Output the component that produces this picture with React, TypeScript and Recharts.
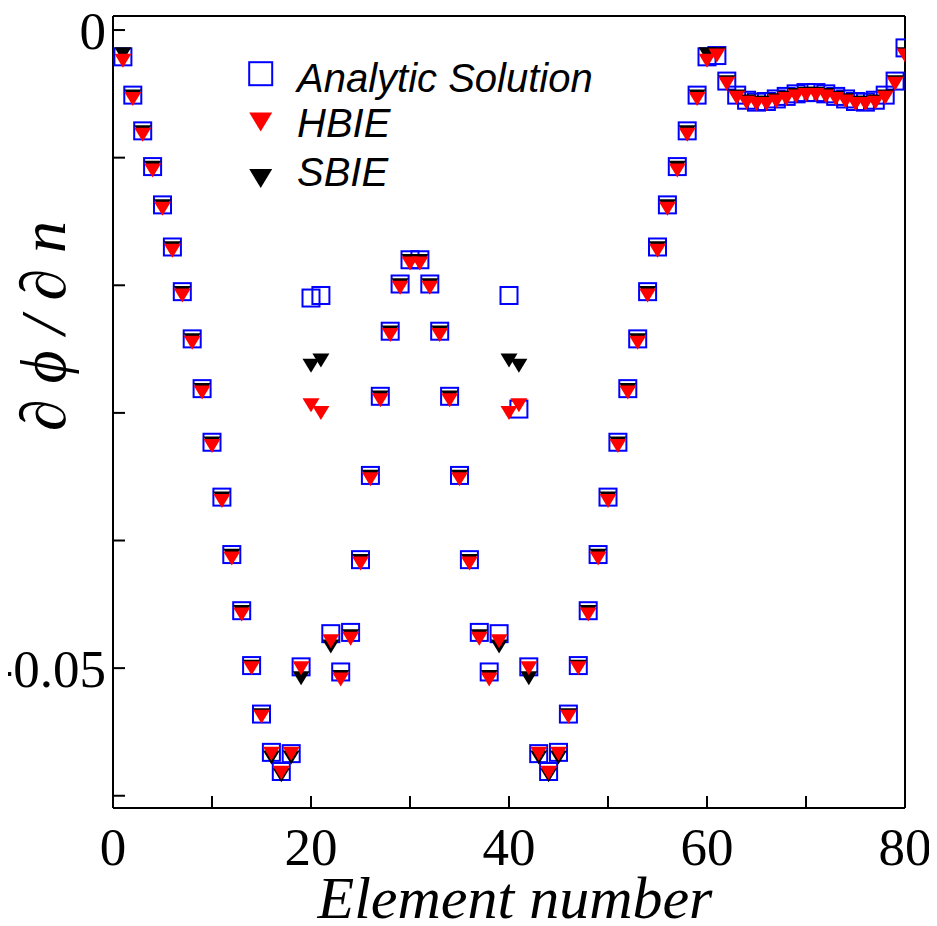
import React from 'react';
import { ScatterChart, Scatter, XAxis, YAxis } from 'recharts';

const ELEMENTS = [
  1, 2, 3, 4, 5, 6, 7, 8, 9, 10, 11, 12, 13, 14, 15, 16, 17, 18, 19, 20,
  21, 22, 23, 24, 25, 26, 27, 28, 29, 30, 31, 32, 33, 34, 35, 36, 37, 38, 39, 40,
  41, 42, 43, 44, 45, 46, 47, 48, 49, 50, 51, 52, 53, 54, 55, 56, 57, 58, 59, 60,
  61, 62, 63, 64, 65, 66, 67, 68, 69, 70, 71, 72, 73, 74, 75, 76, 77, 78, 79, 80,
];

const ANALYTIC = [
  -0.0021, -0.0051, -0.0079, -0.0107, -0.0137, -0.0170, -0.0205, -0.0242, -0.0281, -0.0323,
  -0.0366, -0.0411, -0.0455, -0.0498, -0.0536, -0.0566, -0.0581, -0.0567, -0.0499, -0.0210,
  -0.0208, -0.0473, -0.0503, -0.0472, -0.0415, -0.0349, -0.0287, -0.0236, -0.0199, -0.0180,
  -0.0180, -0.0199, -0.0236, -0.0287, -0.0349, -0.0415, -0.0472, -0.0503, -0.0473, -0.0208,
  -0.0297, -0.0499, -0.0567, -0.0581, -0.0566, -0.0536, -0.0498, -0.0455, -0.0411, -0.0366,
  -0.0323, -0.0281, -0.0242, -0.0205, -0.0170, -0.0137, -0.0107, -0.0079, -0.0051, -0.0021,
  -0.0020, -0.0040, -0.0051, -0.0055, -0.00565, -0.0056, -0.0054, -0.0052, -0.0050, -0.0049,
  -0.0049, -0.0050, -0.0052, -0.0054, -0.0056, -0.00565, -0.0055, -0.0051, -0.0040, -0.0014,
];

const HBIE = [
  -0.0024, -0.0054, -0.0082, -0.0110, -0.0140, -0.0173, -0.0208, -0.0245, -0.0284, -0.0326,
  -0.0369, -0.0414, -0.0458, -0.0500, -0.0538, -0.0567, -0.0582, -0.0567, -0.0500, -0.0294,
  -0.0300, -0.0479, -0.0509, -0.0477, -0.0418, -0.0352, -0.0290, -0.0239, -0.0202, -0.0183,
  -0.0183, -0.0202, -0.0239, -0.0290, -0.0352, -0.0418, -0.0477, -0.0509, -0.0479, -0.0300,
  -0.0294, -0.0500, -0.0567, -0.0582, -0.0567, -0.0538, -0.0500, -0.0458, -0.0414, -0.0369,
  -0.0326, -0.0284, -0.0245, -0.0208, -0.0173, -0.0140, -0.0110, -0.0082, -0.0054, -0.0024,
  -0.0020, -0.0042, -0.0053, -0.0057, -0.0058, -0.0058, -0.0056, -0.0054, -0.0052, -0.0051,
  -0.0051, -0.0052, -0.0054, -0.0056, -0.0058, -0.0058, -0.0057, -0.0053, -0.0042, -0.0020,
];

const SBIE = [
  -0.0019, -0.0052, -0.0080, -0.0108, -0.0138, -0.0171, -0.0206, -0.0243, -0.0282, -0.0324,
  -0.0367, -0.0412, -0.0456, -0.0499, -0.0537, -0.0570, -0.0584, -0.0570, -0.0508, -0.0263,
  -0.0259, -0.0483, -0.0507, -0.0475, -0.0416, -0.0350, -0.0288, -0.0237, -0.0200, -0.0181,
  -0.0181, -0.0200, -0.0237, -0.0288, -0.0350, -0.0416, -0.0475, -0.0507, -0.0483, -0.0259,
  -0.0263, -0.0508, -0.0570, -0.0584, -0.0570, -0.0537, -0.0499, -0.0456, -0.0412, -0.0367,
  -0.0324, -0.0282, -0.0243, -0.0206, -0.0171, -0.0138, -0.0108, -0.0080, -0.0052, -0.0019,
  -0.0019, -0.0041, -0.0052, -0.0056, -0.0057, -0.0057, -0.0055, -0.0053, -0.0051, -0.0050,
  -0.0050, -0.0051, -0.0053, -0.0055, -0.0057, -0.0057, -0.0056, -0.0052, -0.0041, -0.0019,
];

const SERIES_NAMES = ['Analytic Solution', 'HBIE', 'SBIE'];
const X_TICKS = [0, 10, 20, 30, 40, 50, 60, 70, 80];
const X_TICK_LABELS = [0, 20, 40, 60, 80];
const Y_TICKS = [0, -0.01, -0.02, -0.03, -0.04, -0.05, -0.06];
const Y_TICK_LABELS = ['0', '-0.05'];
const X_DOMAIN: [number, number] = [0, 80];
const Y_DOMAIN: [number, number] = [-0.06096, 0.0011];

const X_TITLE = 'Element number';
const Y_TITLE = '\u2202 \u03d5 / \u2202 n';

const toPoints = (ys: number[]) => ELEMENTS.map((x, i) => ({ x, y: ys[i] }));

const BLUE = '#0000ff';
const RED = '#ff0000';
const BLACK = '#000000';
const SERIF = '"Liberation Serif", "Times New Roman", "DejaVu Serif", serif';
const SANS = '"Liberation Sans", Arial, sans-serif';

const SquareShape = (props: any) => {
  const { cx, cy } = props;
  if (cx == null || cy == null) return null;
  const s = 8.5;
  return <rect x={cx - s} y={cy - s} width={2 * s} height={2 * s} fill="none" stroke={BLUE} strokeWidth={2} />;
};

const makeTriangle = (color: string) => (props: any) => {
  const { cx, cy } = props;
  if (cx == null || cy == null) return null;
  const w = 8.5;
  const h = 7;
  return <polygon points={`${cx - w},${cy - h} ${cx + w},${cy - h} ${cx},${cy + h}`} fill={color} />;
};

const axisStroke = { stroke: BLACK, strokeWidth: 2 };

const yTickFormatter = (v: number) => {
  const s = v === 0 ? '0' : v.toFixed(2);
  return Y_TICK_LABELS.includes(s) ? s : '';
};

const XTitle = (p: any) => {
  const vb = p.viewBox;
  return (
    <text x={vb.x + vb.width / 2 + 6} y={vb.y + vb.height - 8} textAnchor="middle" fontFamily={SERIF} fontStyle="italic" fontSize={60} fill={BLACK}>
      {X_TITLE}
    </text>
  );
};

const YTitle = (p: any) => {
  const vb = p.viewBox;
  const x = vb.x + 52;
  const y = vb.y + 310;
  return (
    <text x={x} y={y} transform={`rotate(-90, ${x}, ${y})`} textAnchor="middle" fontFamily={SERIF} fontStyle="italic" fontSize={64} fill={BLACK}>
      {Y_TITLE}
    </text>
  );
};

const LegendOverlay = () => {
  const rows = [
    { cy: 65.7, ty: 84 },
    { cy: 114, ty: 129 },
    { cy: 170.5, ty: 178 },
  ];
  const cx = 252.7;
  return (
    <svg width={700} height={200} style={{ position: 'absolute', left: 0, top: 0, pointerEvents: 'none' }}>
      <rect x={cx - 11.5} y={rows[0].cy - 11.5} width={23} height={23} fill="none" stroke={BLUE} strokeWidth={2} />
      <polygon points={`${cx - 11.5},${rows[1].cy - 9.5} ${cx + 11.5},${rows[1].cy - 9.5} ${cx},${rows[1].cy + 9.5}`} fill={RED} />
      <polygon points={`${cx - 11.5},${rows[2].cy - 9.5} ${cx + 11.5},${rows[2].cy - 9.5} ${cx},${rows[2].cy + 9.5}`} fill={BLACK} />
      {SERIES_NAMES.map((n, i) => (
        <text key={n} x={289} y={rows[i].ty} fontFamily={SANS} fontStyle="italic" fontSize={40} fill={BLACK}>
          {n}
        </text>
      ))}
    </svg>
  );
};

export default function App() {
  return (
    <div style={{ position: 'relative', width: 929, height: 918 }}>
      <ScatterChart width={929} height={918} margin={{ top: 0, right: 22, bottom: 0, left: 5 }}>
        <XAxis
          xAxisId="bottom"
          type="number"
          dataKey="x"
          orientation="bottom"
          domain={X_DOMAIN}
          ticks={X_TICKS}
          interval={0}
          allowDataOverflow
          height={118}
          tickSize={-12}
          tickMargin={31}
          axisLine={axisStroke}
          tickLine={axisStroke}
          tick={{ fill: BLACK, fontSize: 53, fontFamily: SERIF }}
          tickFormatter={(v: number) => (X_TICK_LABELS.includes(v) ? String(v) : '')}
          label={{ content: XTitle }}
        />
        <XAxis
          xAxisId="top"
          type="number"
          dataKey="x"
          orientation="top"
          domain={X_DOMAIN}
          ticks={X_TICKS}
          interval={0}
          allowDataOverflow
          height={8}
          tickSize={-12}
          axisLine={axisStroke}
          tickLine={axisStroke}
          tick={false}
        />
        <YAxis
          yAxisId="left"
          type="number"
          dataKey="y"
          orientation="left"
          domain={Y_DOMAIN}
          ticks={Y_TICKS}
          interval={0}
          allowDataOverflow
          width={100}
          tickSize={-12}
          tickMargin={19}
          axisLine={axisStroke}
          tickLine={axisStroke}
          tick={{ fill: BLACK, fontSize: 53, fontFamily: SERIF }}
          tickFormatter={yTickFormatter}
          label={{ content: YTitle }}
        />
        <YAxis
          yAxisId="right"
          type="number"
          dataKey="y"
          orientation="right"
          domain={Y_DOMAIN}
          ticks={Y_TICKS}
          interval={0}
          allowDataOverflow
          width={10}
          tickSize={-12}
          axisLine={axisStroke}
          tickLine={axisStroke}
          tick={false}
        />
        <Scatter name={SERIES_NAMES[0]} data={toPoints(ANALYTIC)} xAxisId="bottom" yAxisId="left" shape={SquareShape} isAnimationActive={false} />
        <Scatter name={SERIES_NAMES[2]} data={toPoints(SBIE)} xAxisId="bottom" yAxisId="left" shape={makeTriangle(BLACK)} isAnimationActive={false} />
        <Scatter name={SERIES_NAMES[1]} data={toPoints(HBIE)} xAxisId="bottom" yAxisId="left" shape={makeTriangle(RED)} isAnimationActive={false} />
      </ScatterChart>
      <LegendOverlay />
    </div>
  );
}
